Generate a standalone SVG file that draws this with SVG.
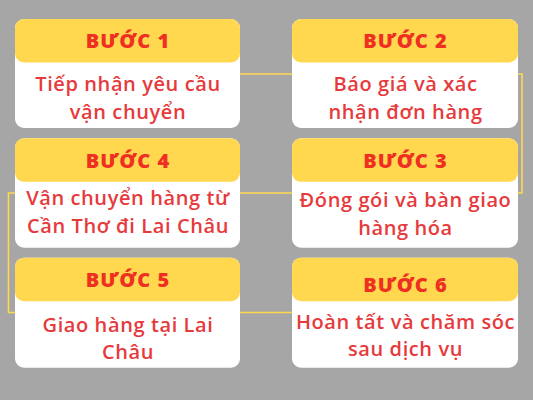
<svg xmlns="http://www.w3.org/2000/svg" width="533" height="400" viewBox="0 0 533 400">
<style>
.card{fill:#ffffff}
.head{fill:#ffd850}
.ht{font-family:"Open Sans","Noto Sans",sans-serif;font-weight:800;font-size:20px;fill:#ee2f22;text-anchor:middle;letter-spacing:1px}
.bt{font-family:"Open Sans","Noto Sans",sans-serif;font-weight:600;font-size:20px;fill:#e63a3c;text-anchor:middle;letter-spacing:0.6px}
.con{fill:none;stroke:#ffd850;stroke-width:1.6}
</style>
<rect x="0" y="0" width="533" height="400" fill="#a6a6a6"/>
<g id="connectors">
<path class="con" d="M240 74 H292"/>
<path class="con" d="M518 74 H522 V193 H518"/>
<path class="con" d="M292 193 H240"/>
<path class="con" d="M15 193 H8.5 V312.5 H15"/>
<path class="con" d="M240 312.5 H292"/>
</g>
<g id="step1">
<rect class="card" x="15" y="19" width="225" height="109" rx="9"/>
<rect class="head" x="15" y="19" width="225" height="43.5" rx="9"/>
<text class="ht" x="128" y="48">BƯỚC 1</text>
<text class="bt" x="128" y="91">Tiếp nhận yêu cầu</text>
<text class="bt" x="128" y="119">vận chuyển</text>
</g>
<g id="step2">
<rect class="card" x="292" y="19" width="226" height="109" rx="9"/>
<rect class="head" x="292" y="19" width="226" height="43.5" rx="9"/>
<text class="ht" x="405.5" y="48">BƯỚC 2</text>
<text class="bt" x="405.5" y="91">Báo giá và xác</text>
<text class="bt" x="405.5" y="119">nhận đơn hàng</text>
</g>
<g id="step4">
<rect class="card" x="15" y="138.3" width="225" height="109.4" rx="9"/>
<rect class="head" x="15" y="138.3" width="225" height="43.5" rx="9"/>
<text class="ht" x="128" y="167.5">BƯỚC 4</text>
<text class="bt" x="128" y="205">Vận chuyển hàng từ</text>
<text class="bt" x="128" y="233">Cần Thơ đi Lai Châu</text>
</g>
<g id="step3">
<rect class="card" x="292" y="138.3" width="226" height="109.4" rx="9"/>
<rect class="head" x="292" y="138.3" width="226" height="43.5" rx="9"/>
<text class="ht" x="405.5" y="167.5">BƯỚC 3</text>
<text class="bt" x="405.5" y="207">Đóng gói và bàn giao</text>
<text class="bt" x="405.5" y="235">hàng hóa</text>
</g>
<g id="step5">
<rect class="card" x="15" y="257.7" width="225" height="110" rx="9"/>
<rect class="head" x="15" y="257.7" width="225" height="43.5" rx="9"/>
<text class="ht" x="128" y="287">BƯỚC 5</text>
<text class="bt" x="128" y="332">Giao hàng tại Lai</text>
<text class="bt" x="128" y="359">Châu</text>
</g>
<g id="step6">
<rect class="card" x="292" y="257.7" width="226" height="110" rx="9"/>
<rect class="head" x="292" y="257.7" width="226" height="43.5" rx="9"/>
<text class="ht" x="405.5" y="292">BƯỚC 6</text>
<text class="bt" x="405.5" y="329">Hoàn tất và chăm sóc</text>
<text class="bt" x="405.5" y="356">sau dịch vụ</text>
</g>
</svg>
